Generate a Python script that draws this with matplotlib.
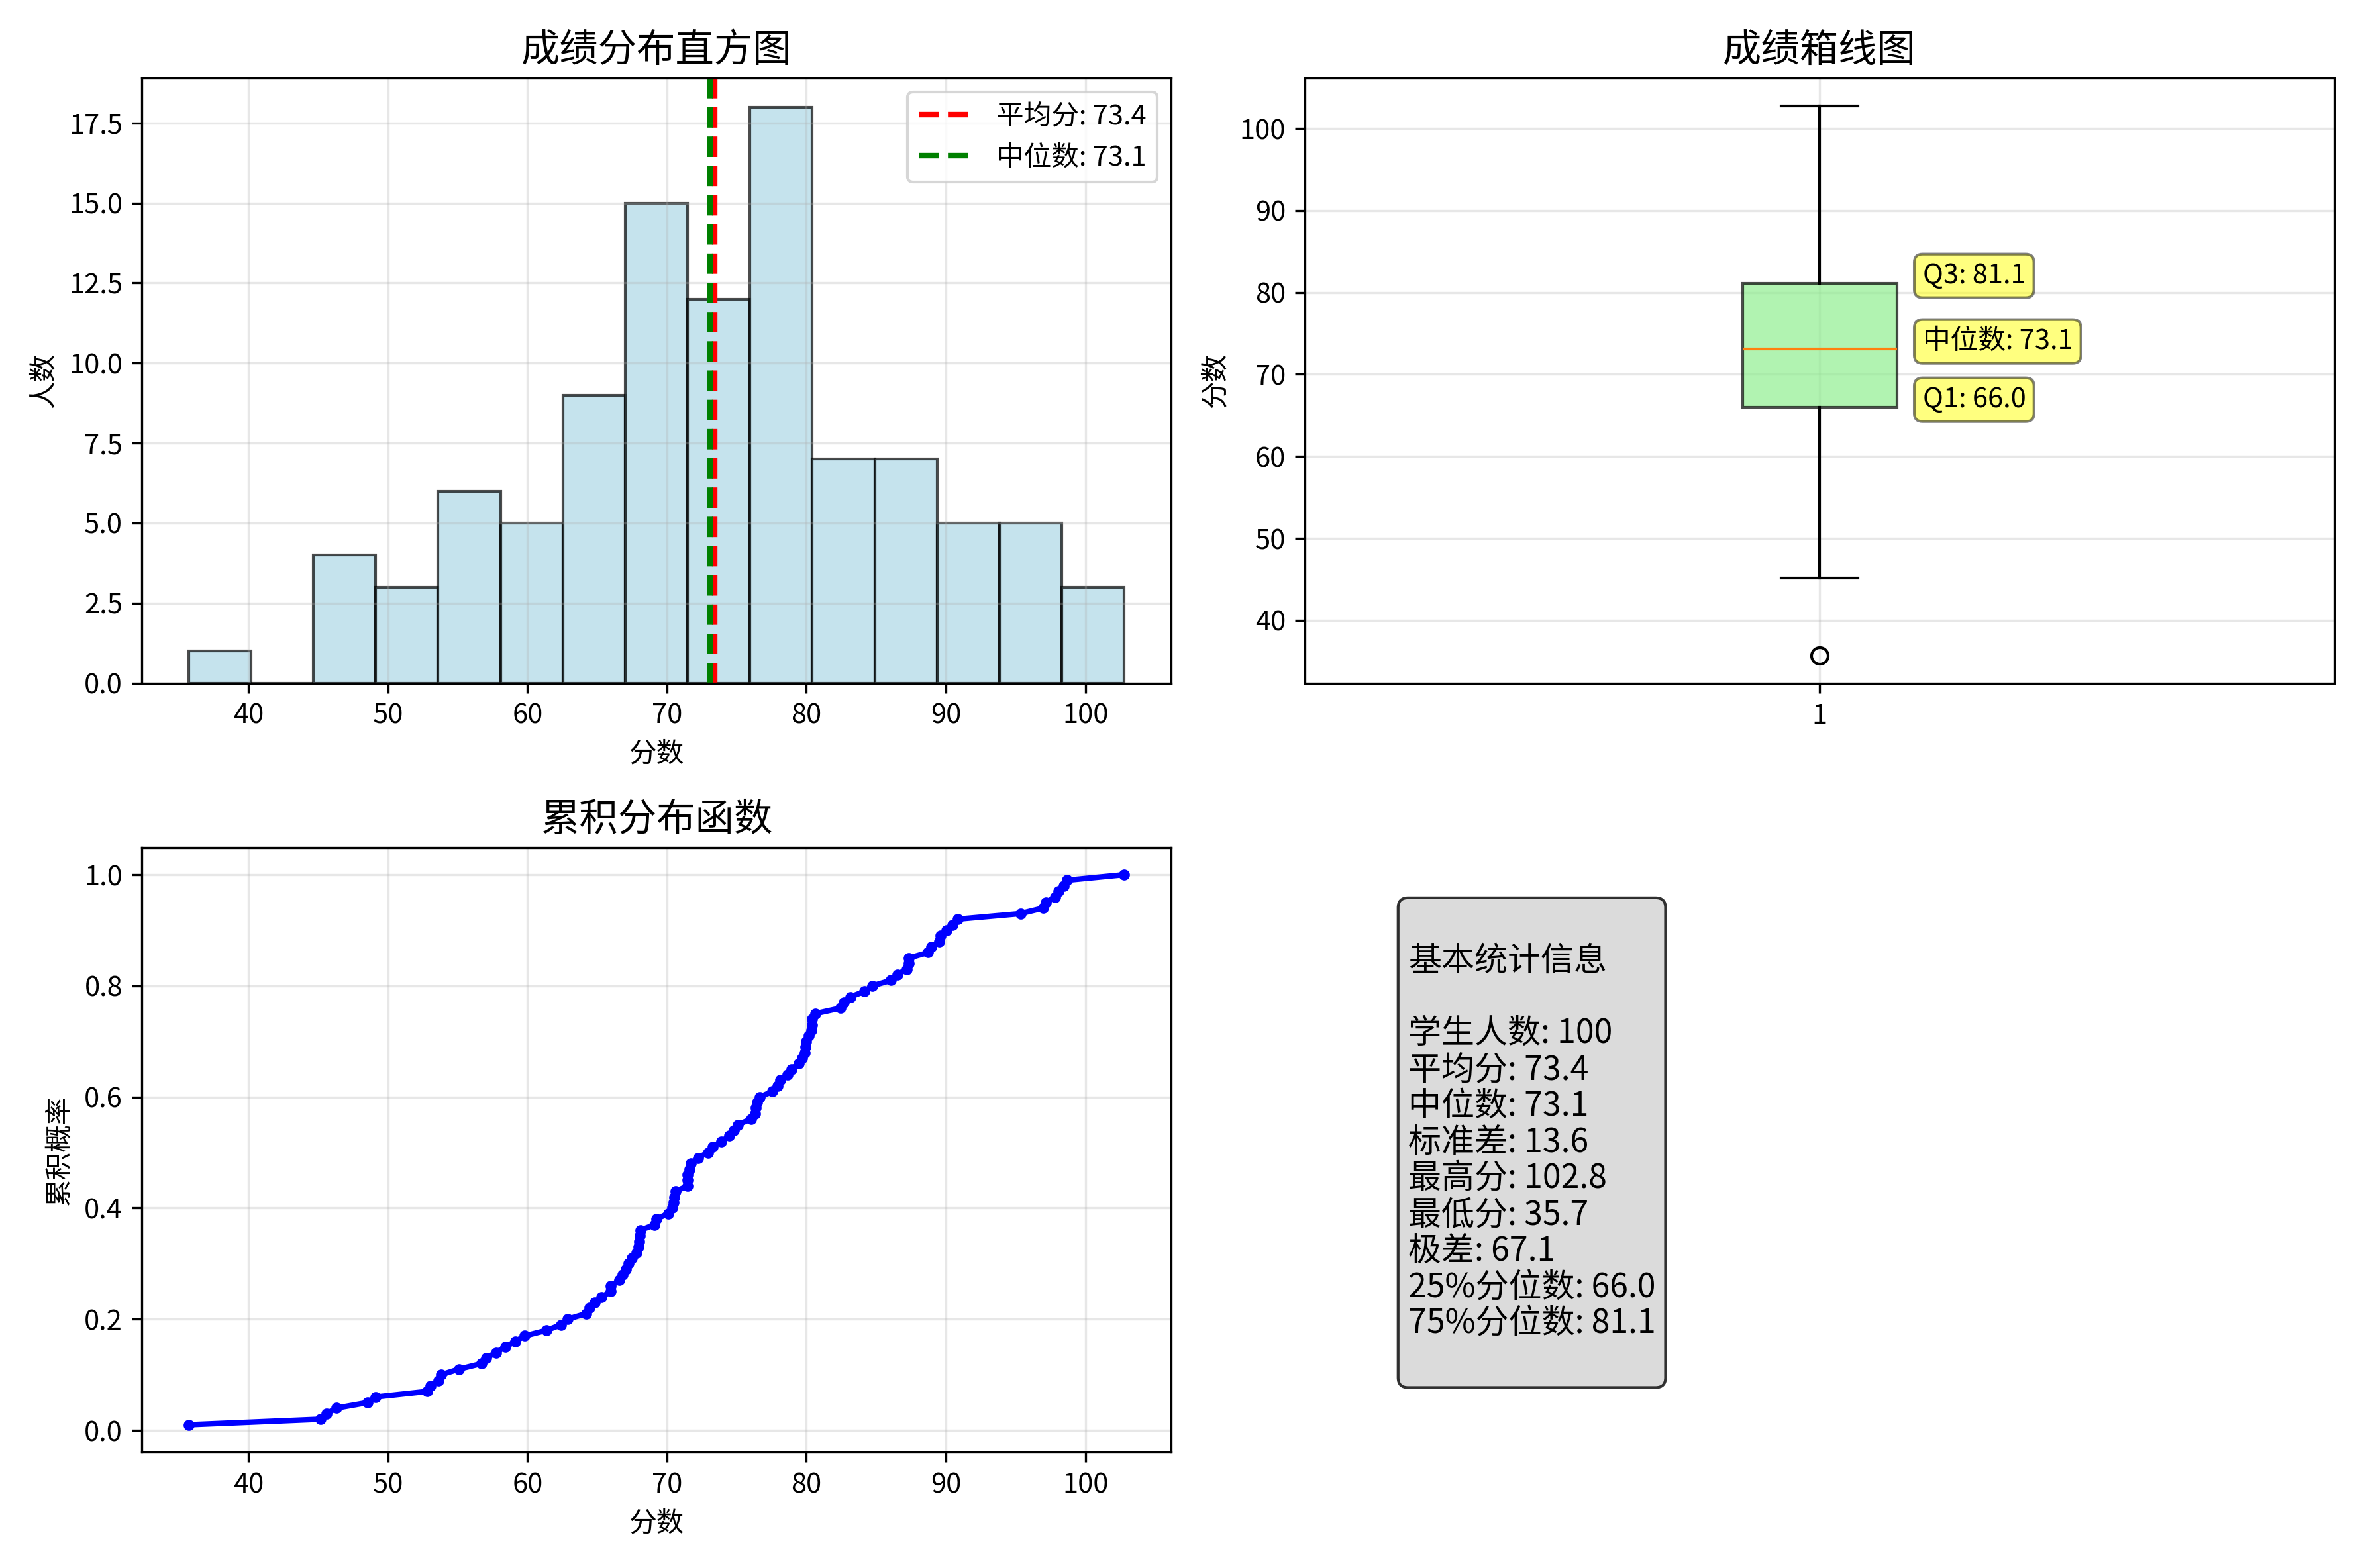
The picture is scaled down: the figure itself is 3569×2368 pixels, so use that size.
import numpy as np
import matplotlib
matplotlib.use("Agg")
import matplotlib.pyplot as plt

plt.rcParams['font.family'] = ['Noto Sans CJK SC', 'DejaVu Sans']
plt.rcParams['axes.unicode_minus'] = False

# 100名学生成绩
scores = np.array([
    82.451, 72.926, 84.715, 97.845, 71.488, 71.488, 98.688, 86.512, 67.958, 83.138,
    68.049, 68.014, 78.629, 46.301, 49.126, 66.566, 59.808, 79.714, 61.380, 53.815,
    96.985, 71.613, 76.013, 53.629, 66.834, 76.664, 57.735, 80.635, 65.990, 70.625,
    65.974, 102.784, 74.798, 59.134, 87.338, 56.687, 78.133, 45.605, 55.077, 77.953,
    86.077, 77.571, 73.265, 70.483, 52.822, 64.202, 68.090, 90.857, 80.154, 48.554,
    79.861, 69.224, 64.846, 84.175, 90.465, 88.969, 62.412, 70.362, 79.969, 89.633,
    67.812, 72.215, 58.405, 57.057, 87.188, 95.344, 73.920, 90.053, 80.425, 65.323,
    80.421, 98.071, 74.463, 98.470, 35.704, 87.329, 76.306, 70.515, 76.376, 45.186,
    71.705, 80.357, 97.168, 67.226, 62.873, 67.474, 88.731, 79.931, 67.054, 82.699,
    76.456, 89.530, 64.469, 70.085, 69.118, 53.047, 79.442, 78.916, 75.077, 71.481,
])

mean_v = np.mean(scores)
median_v = np.median(scores)
std_v = np.std(scores)
q1 = np.percentile(scores, 25)
q3 = np.percentile(scores, 75)

fig, axes = plt.subplots(2, 2, figsize=(3569 / 300, 2368 / 300))
ax1, ax2, ax3, ax4 = axes.flatten()

# 直方图
ax1.hist(scores, bins=15, color='lightblue', alpha=0.7, edgecolor='black')
ax1.axvline(mean_v, color='red', linestyle='--', linewidth=2, label=f'平均分: {mean_v:.1f}')
ax1.axvline(median_v, color='green', linestyle='--', linewidth=2, label=f'中位数: {median_v:.1f}')
ax1.set_title('成绩分布直方图', fontsize=14)
ax1.set_xlabel('分数')
ax1.set_ylabel('人数')
ax1.legend()
ax1.grid(True, alpha=0.3)

# 箱线图
bp = ax2.boxplot(scores, patch_artist=True)
bp['boxes'][0].set_facecolor('lightgreen')
bp['boxes'][0].set_alpha(0.7)
ax2.set_title('成绩箱线图', fontsize=14)
ax2.set_ylabel('分数')
ax2.grid(True, alpha=0.3)
box_style = dict(boxstyle='round', facecolor='yellow', alpha=0.5)
ax2.text(1.1, q3, f'Q3: {q3:.1f}', bbox=box_style)
ax2.text(1.1, median_v, f'中位数: {median_v:.1f}', bbox=box_style)
ax2.text(1.1, q1, f'Q1: {q1:.1f}', bbox=box_style)

# 累积分布
sorted_scores = np.sort(scores)
cum_prob = np.arange(1, len(sorted_scores) + 1) / len(sorted_scores)
ax3.plot(sorted_scores, cum_prob, 'b-', marker='o', markersize=3, linewidth=2)
ax3.set_title('累积分布函数', fontsize=14)
ax3.set_xlabel('分数')
ax3.set_ylabel('累积概率')
ax3.grid(True, alpha=0.3)

# 统计信息
ax4.axis('off')
stats_text = f"""
基本统计信息

学生人数: {len(scores)}
平均分: {mean_v:.1f}
中位数: {median_v:.1f}
标准差: {std_v:.1f}
最高分: {np.max(scores):.1f}
最低分: {np.min(scores):.1f}
极差: {np.max(scores) - np.min(scores):.1f}
25%分位数: {q1:.1f}
75%分位数: {q3:.1f}
"""
ax4.text(0.1, 0.9, stats_text, transform=ax4.transAxes, fontsize=12,
         verticalalignment='top', linespacing=1.07,
         bbox=dict(boxstyle='round', facecolor='lightgray', alpha=0.8))

plt.tight_layout()
plt.savefig('out.png', dpi=300)
